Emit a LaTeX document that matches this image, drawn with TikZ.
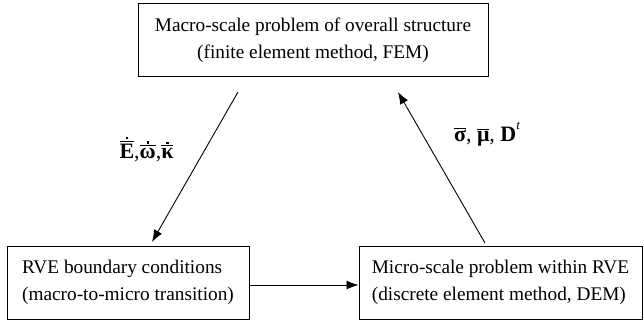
\documentclass[tikz,border=0pt]{standalone}
\usepackage{fontspec}
\setmainfont{Liberation Serif}
\usetikzlibrary{arrows.meta}

% bold upright symbol with a bar over it, and a rate dot above the bar
\newcommand{\barsym}[1]{\leavevmode\vbox{\offinterlineskip\halign{\hfil##\hfil\cr
  \noalign{\hrule height 1.1pt\kern1.6pt}\bfseries #1\cr}}}
\newcommand{\rate}[1]{\leavevmode\vbox{\offinterlineskip\halign{\hfil##\hfil\cr
  \rule{2.3pt}{2.3pt}\cr\noalign{\kern1.4pt\hrule height 1.1pt\kern1.6pt}\bfseries #1\cr}}}

\tikzset{
  box/.style={draw, line width=1pt, minimum height=73pt, inner sep=0pt,
    font=\fontsize{19.3}{27}\selectfont},
  arr/.style={line width=0.9pt, -{Latex[length=12pt,width=9pt]}},
  lbl/.style={anchor=base, inner sep=0pt, font=\fontsize{22}{24}\selectfont}
}

\begin{document}
\begin{tikzpicture}[x=1pt, y=-1pt]
  \useasboundingbox (0,0) rectangle (644,323);

  % the three stages
  \node[box, minimum width=350pt, align=center] (macro) at (313,40.5)
    {Macro-scale problem of overall structure\\(finite element method, FEM)};
  \node[box, minimum width=242pt, align=left] (rve) at (128,282.5)
    {RVE boundary conditions\\(macro-to-micro transition)};
  \node[box, minimum width=283pt, align=left] (micro) at (500.5,282.5)
    {Micro-scale problem within RVE\\(discrete element method, DEM)};

  % free ends of the two diagonal connectors
  \coordinate (downS) at (238,92);
  \coordinate (downE) at (152,242);
  \coordinate (upS) at (485,243);
  \coordinate (upE) at (398,92);

  \draw[arr] (downS) -- (downE);
  \draw[arr] (upS) -- (upE);
  \draw[arr] ([yshift=-2.5pt]rve.east) -- ([yshift=-2.5pt]micro.west);

  % transferred quantities
  \node[lbl] (rates) at (146.5,158)
    {\rate{E},\rate{ω},\rate{κ}};
  \node[lbl] (stress) at (487,142)
    {\barsym{σ}, \barsym{μ}, {\bfseries D}\raisebox{0.55em}{\fontsize{13}{14}\selectfont\itshape t}};
\end{tikzpicture}
\end{document}
